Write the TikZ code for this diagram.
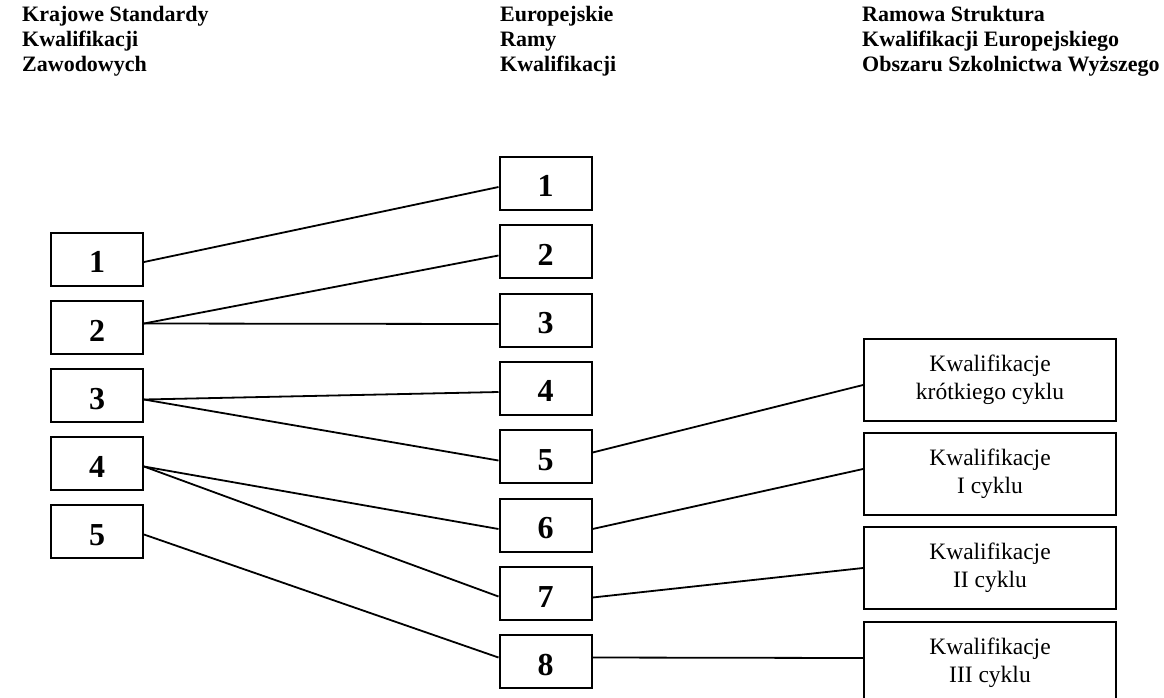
\documentclass[tikz,border=0pt]{standalone}
\usepackage{fontspec}
\setmainfont{Liberation Serif}
\usetikzlibrary{calc}
\begin{document}
\begin{tikzpicture}[x=1pt,y=-1pt,
  numbox/.style={draw,line width=2pt,minimum width=92pt,minimum height=53pt,inner sep=0pt,text height=27pt,text depth=0pt,font=\fontsize{32}{32}\selectfont\bfseries},
  cycbox/.style={draw,line width=2pt,minimum width=252pt,minimum height=82pt,inner sep=0pt,align=center,font=\fontsize{23.5}{28}\selectfont},
  title/.style={anchor=north west,align=left,inner sep=0pt,font=\fontsize{22}{25}\selectfont\bfseries},
  link/.style={line width=1.8pt}]
\useasboundingbox (0,0) rectangle (1164,697);
% titles
\node[title] (T1) at (22,6) {Krajowe Standardy\\Kwalifikacji\\Zawodowych};
\node[title] (T2) at (500,6) {Europejskie\\Ramy\\Kwalifikacji};
\node[title] (T3) at (862,6) {Ramowa Struktura\\Kwalifikacji Europejskiego\\Obszaru Szkolnictwa Wyższego};
% left column
\node[numbox] (L1) at (97,259) {1};
\node[numbox] (L2) at (97,327.5) {2};
\node[numbox] (L3) at (97,395.5) {3};
\node[numbox] (L4) at (97,463.5) {4};
\node[numbox] (L5) at (97,531.5) {5};
% middle column
\node[numbox] (M1) at (545.5,183) {1};
\node[numbox] (M2) at (545.5,251.5) {2};
\node[numbox] (M3) at (545.5,320) {3};
\node[numbox] (M4) at (545.5,388) {4};
\node[numbox] (M5) at (545.5,456.5) {5};
\node[numbox] (M6) at (545.5,525) {6};
\node[numbox] (M7) at (545.5,593.5) {7};
\node[numbox] (M8) at (545.5,661.5) {8};
% right column
\node[cycbox] (R1) at (990,380) {Kwalifikacje\\krótkiego cyklu};
\node[cycbox] (R2) at (990,474) {Kwalifikacje\\I cyklu};
\node[cycbox] (R3) at (990,568) {Kwalifikacje\\II cyklu};
\node[cycbox] (R4) at (990,663) {Kwalifikacje\\III cyklu};
% connectors
\draw[link] ($(L1.east)+(0,3)$) -- ($(M1.west)+(0,4)$);
\draw[link] ($(L2.east)+(0,-4)$) -- ($(M2.west)+(0,4)$);
\draw[link] ($(L2.east)+(0,-4)$) -- ($(M3.west)+(0,4)$);
\draw[link] ($(L3.east)+(0,4)$) -- ($(M4.west)+(0,4)$);
\draw[link] ($(L3.east)+(0,4)$) -- ($(M5.west)+(0,4)$);
\draw[link] ($(L4.east)+(0,3)$) -- ($(M6.west)+(0,4)$);
\draw[link] ($(L4.east)+(0,3)$) -- ($(M7.west)+(0,3)$);
\draw[link] ($(L5.east)+(0,3)$) -- ($(M8.west)+(0,-4)$);
\draw[link] ($(M5.east)+(0,-4)$) -- ($(R1.west)+(0,5)$);
\draw[link] ($(M6.east)+(0,4)$) -- ($(R2.west)+(0,-5)$);
\draw[link] ($(M7.east)+(0,4)$) -- (R3.west);
\draw[link] ($(M8.east)+(0,-4)$) -- ($(R4.west)+(0,-5)$);
\end{tikzpicture}
\end{document}
